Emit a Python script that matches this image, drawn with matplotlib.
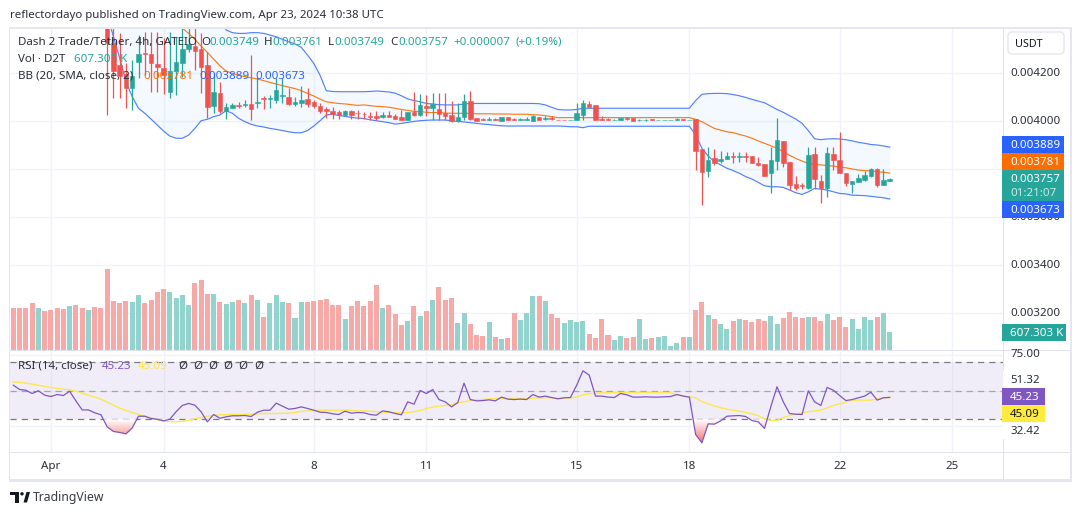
import numpy as np
import matplotlib
matplotlib.use("Agg")
import matplotlib.pyplot as plt
from matplotlib.patches import Rectangle, Polygon, FancyBboxPatch
from matplotlib.path import Path

plt.rcParams['font.family'] = ['Noto Sans', 'DejaVu Sans']

# ---- data (prices in 1e-6 USDT) ----
day_ticks = [6, 24, 48, 66, 90, 108, 132, 150]
day_labels = ['Apr', '4', '8', '11', '15', '18', '22', '25']
price_ticks = [4200, 4000, 3600, 3400, 3200]

candle_first = 15
opens = [4420,4321,4231,4194,4135,4244,4280,4276,4235,4219,4120,4206,4241,4296,4312,4296,4231,4060,4114,4039,4053,4063,4063,4069,4074,4095,4089,4085,4102,4096,4070,4074,4089,4077,4060,4048,4039,4035,4023,4039,4033,
 4027,4019,4019,4016,4023,4019,4015,4002,4035,4023,4060,4052,4048,4033,4023,3998,4015,4081,4010,4006,4003,4006,3998,4015,4006,4003,4003,3998,4015,4008,4010,4004,4004,4003,4002,4023,4069,4065,4006,4006,4001,4002,4010,4010,4001,4001,4006,4001,4001,4001,4003,4006,4001,
 4005,3881,3790,3844,3831,3840,3852,3848,3852,3852,3823,3819,3781,3831,3915,3827,3735,3731,3719,3860,3748,3719,3860,3835,3781,3735,3744,3752,3769,3798,3731,3749]
highs = [4500,4400,4363,4238,4252,4356,4370,4370,4370,4342,4370,4349,4384,4391,4400,4363,4287,4196,4162,4071,4071,4078,4085,4273,4183,4102,4106,4176,4176,4134,4096,4144,4134,4085,4071,4058,4058,4044,4044,4044,4044,
 4037,4037,4040,4034,4040,4027,4044,4037,4117,4110,4106,4113,4113,4113,4081,4071,4110,4123,4010,4012,4013,4012,4015,4015,4012,4012,4015,4023,4015,4019,4019,4004,4004,4004,4073,4085,4081,4065,4019,4010,4006,4010,4016,4010,4006,4006,4006,4002,4002,4002,4010,4006,4002,
 4005,3881,3890,3881,3873,3869,3869,3869,3869,3852,3848,3819,3891,4010,3915,3827,3769,3738,3891,3891,3773,3891,3891,3952,3781,3748,3777,3790,3802,3802,3798,3761]
lows = [4023,4092,4092,4051,4044,4176,4189,4120,4120,4109,4095,4106,4183,4287,4210,4113,4009,4030,4030,4006,4051,4051,4058,4002,4051,4048,4051,4071,4071,4064,4060,4058,4058,4051,4033,4009,4005,4005,4019,4005,4005,
 4005,4002,4002,4012,4013,4005,4002,4002,4020,4020,4020,4002,4002,4002,3995,3995,4002,4002,3998,4002,4002,4002,3998,4002,4002,4002,4002,3998,4002,4002,4002,4003,4003,4003,4002,4002,4056,4002,4002,4002,4001,4002,4002,3998,3998,3998,4003,4001,4001,4001,4002,4003,4001,
 3794,3648,3765,3815,3823,3840,3823,3827,3827,3823,3810,3769,3698,3794,3806,3710,3710,3714,3714,3714,3656,3681,3794,3781,3727,3698,3744,3748,3765,3723,3731,3749]
closes = [4321,4208,4185,4135,4185,4276,4276,4241,4224,4189,4208,4244,4296,4317,4291,4224,4058,4117,4041,4055,4064,4060,4067,4048,4077,4091,4092,4127,4106,4069,4077,4085,4069,4060,4039,4039,4026,4023,4039,4023,4030,
 4026,4016,4012,4023,4016,4008,4002,4035,4023,4065,4053,4070,4027,4020,3998,4015,4081,4008,3998,4002,4006,4002,4015,4002,4003,4006,4006,4019,4002,4010,4006,4003,4003,4004,4031,4073,4056,4002,4002,4002,4003,4010,4006,3998,4002,4002,4003,4002,4002,4002,4006,4003,4002,
 3873,3785,3835,3823,3840,3852,3848,3852,3848,3823,3815,3769,3835,3919,3823,3731,3719,3727,3856,3756,3719,3864,3835,3781,3739,3748,3760,3773,3798,3731,3752,3757]

bb_upper = [4900,4890,4880,4860,4840,4820,4800,4780,4760,4740,4720,4700,4680,4650,4620,4590,4550,4500,4440,
 4377,4366,4363,4363,4366,4366,4363,4356,4349,4338,4328,4319,4305,4273,4238,4189,4124,4121,4120,4120,4120,4120,
 4120,4121,4123,4121,4119,4114,4103,4090,4083,4078,4071,4069,4066,4065,4065,4065,4069,4071,4071,4071,4071,4071,4071,4071,4071,4071,4071,4071,4070,4065,4055,4046,4044,4044,4046,4051,4051,4051,4051,4051,4051,4051,4051,4051,4051,4051,4051,4051,4051,4051,4051,4051,4051,
 4083,4109,4112,4113,4113,4112,4108,4103,4096,4088,4081,4074,4060,4046,4034,4020,4006,3988,3958,3924,3920,3923,3924,3923,3920,3915,3909,3905,3900,3898,3894,3889]
bb_mid = [4620,4600,4580,4560,4540,4520,4500,4480,4460,4440,4420,4400,
 4385,4363,4338,4310,4284,4256,4228,4206,4196,4188,4183,4178,4173,4166,4159,4152,4145,4139,4133,4124,4113,4102,4089,4078,4074,4071,4069,4066,4063,
 4065,4062,4059,4058,4055,4051,4046,4042,4038,4037,4034,4033,4033,4031,4030,4030,4030,4030,4028,4028,4028,4027,4027,4027,4026,4026,4026,4024,4023,4020,4016,4012,4012,4012,4012,4012,4012,4012,4012,4012,4012,4012,4012,4012,4012,4012,4012,4012,4012,4012,4012,4012,4012,
 4005,3995,3981,3967,3960,3953,3949,3942,3935,3926,3915,3905,3895,3884,3870,3855,3842,3831,3821,3816,3815,3812,3810,3807,3803,3798,3794,3791,3790,3787,3784,3781]
bb_lower = [4440,4349,4259,4162,4099,4051,4030,4006,3981,3956,3935,3926,3926,3939,3967,3999,4005,4016,4023,4041,4030,4009,3995,3984,3977,3973,3967,3963,3958,3953,3949,3949,3958,3977,3999,4023,4026,4021,4017,4013,4010,
 4008,4003,3999,3995,3991,3985,3988,3992,3996,3999,4001,4002,4002,4002,3999,3996,3994,3991,3988,3985,3983,3980,3978,3977,3977,3977,3977,3977,3977,3977,3977,3977,3976,3974,3974,3970,3976,3976,3976,3976,3976,3976,3976,3976,3976,3976,3976,3976,3976,3976,3976,3976,3976,
 3940,3884,3852,3828,3815,3801,3791,3780,3766,3756,3742,3728,3724,3724,3721,3710,3699,3692,3703,3717,3714,3710,3703,3696,3694,3689,3688,3687,3684,3681,3678,3673]

volume_k = [1386,1386,1386,1551,1386,1287,1320,1386,1353,1452,1485,1386,1320,1419,1386,2673,1617,1551,1617,1584,1815,1551,1650,1914,2013,1914,1716,1815,1485,2211,2310,1848,1848,1584,1518,1584,1650,1551,1815,1650,1089,1551,1815,1584,1551,1056,1584,1584,1617,1650,1683,1485,1485,1023,1452,1617,
 1452,1617,2145,1386,1485,1188,825,957,1452,1122,1287,1650,2079,1650,1716,891,1221,858,495,462,924,429,363,396,1221,990,1221,1782,1782,1617,1188,1056,891,990,924,957,528,396,1023,495,330,462,396,429,1023,363,396,429,462,132,231,429,429,1320,1584,1155,1023,858,
 693,957,1023,990,924,1023,957,1122,858,1056,1254,1089,1056,1089,1089,957,1188,990,1089,759,1023,693,1089,990,1089,1221,607.3]
volume_dir = ("rrrrgrrrrgrrgrr"
              "rrrrggrrrrggggrrrgrggrgrgrgggrggrrrrrrgrr"
              "rrrgrrrgrgrgrrrggrrrgrgrrgggrgrrggggrrrrggrrggrggggrgrrgrg"
              "grgrrrrggrrrrgrrgrrrggggrgg")

rsi = [53.7,50.7,50.2,47.9,49.8,46.8,45.8,47.2,46.5,49.5,42.8,36.5,36.5,34.5,33.1,24.7,21.5,20.8,19.8,24.0,32.1,32.1,30.5,30.0,28.9,30.0,35.2,39.6,41.0,39.8,35.2,28.2,33.3,30.7,31.7,32.4,32.4,32.6,31.9,34.9,36.3,36.3,41.2,39.1,37.0,37.5,38.6,37.5,36.3,34.9,34.7,33.8,33.3,35.6,34.2,34.7,
 34.5,33.3,32.8,35.8,35.2,34.0,33.1,42.1,40.5,50.0,47.9,50.7,43.7,42.1,38.6,41.6,55.1,43.7,42.8,43.0,43.5,42.8,45.4,44.0,43.7,44.0,43.7,47.2,45.4,46.1,45.1,44.2,44.9,45.1,53.7,63.7,60.7,46.1,46.1,45.4,45.1,47.9,47.0,45.4,45.4,45.6,45.4,45.4,45.6,45.8,47.2,46.1,45.4,19.4,13.6,26.8,26.6,28.9,
 32.1,32.4,32.6,31.9,29.1,28.2,23.6,38.6,52.6,42.1,34.0,33.5,33.3,49.8,42.1,39.6,52.1,50.2,46.5,43.0,43.7,44.9,46.1,48.8,43.3,44.9,45.23]
rsi_ma = [55.8,55.8,55.1,54.4,53.7,52.8,52.1,51.4,50.9,50.5,49.5,48.1,46.8,45.4,44.0,41.9,39.8,37.7,36.1,34.7,33.5,32.1,31.0,29.8,28.7,28.4,28.2,28.7,29.1,30.3,31.2,32.1,32.8,33.1,33.1,33.3,33.3,33.5,33.5,33.8,34.0,34.0,34.0,34.2,34.2,34.7,35.4,35.8,36.1,36.3,36.3,36.3,36.3,36.3,36.1,35.8,
 35.8,35.6,35.2,34.9,34.7,34.5,34.5,34.7,35.2,36.1,37.5,38.4,39.1,39.6,40.0,41.4,42.1,43.0,43.5,43.7,44.2,44.4,44.4,44.4,44.4,44.4,44.4,44.7,44.9,45.1,44.9,44.7,44.7,44.9,45.4,47.0,47.7,48.1,48.4,48.4,48.6,48.6,48.6,48.6,48.6,48.6,48.6,48.6,48.6,48.4,47.2,46.3,45.6,44.9,42.3,40.7,39.3,37.9,
 37.0,36.3,35.6,34.7,33.8,32.4,30.5,29.1,29.4,31.2,32.6,33.5,34.5,35.2,35.8,36.3,37.9,39.6,40.7,42.1,43.0,43.3,43.3,43.3,44.2,45.1,45.09]

# ---- colours ----
GREEN, RED = '#26a69a', '#ef5350'
BLUE, ORANGE = '#2962ff', '#ff6d00'
PURPLE, YELLOW = '#7e57c2', '#fde74c'
GRID = '#f0f3fa'
FRAME = '#e6e6ee'
TEXT = '#131722'

W, H = 1080, 515
fig = plt.figure(figsize=(W / 100, H / 100), dpi=100, facecolor='white')

def axes_px(x0, y0, x1, y1, **kw):
    return fig.add_axes([x0 / W, 1 - y1 / H, (x1 - x0) / W, (y1 - y0) / H], **kw)

BAR0, BAR_DX = 13.3, 6.26
LEFT, RIGHT = 10, 1003
xlim = ((LEFT - BAR0) / BAR_DX, (RIGHT - BAR0) / BAR_DX)
TOP, SPLIT, BOTTOM = 28, 350, 452.7

ax = axes_px(LEFT, TOP, RIGHT, SPLIT)
ax.set_xticks(day_ticks); ax.set_yticks([4200, 4000, 3800, 3600, 3400, 3200])
ax.set_xlim(*xlim)
ax.set_ylim(4000 - (SPLIT - 120.5) * 200 / 48, 4000 + (120.5 - TOP) * 200 / 48)
ax.grid(True, color=GRID, lw=1, zorder=0)
ax.set_axisbelow(True)
ax.tick_params(length=0, labelleft=False, labelbottom=False)
for s in ax.spines.values():
    s.set_visible(False)

# volume in its own overlay axes
vax = axes_px(LEFT, TOP, RIGHT, SPLIT, sharex=ax)
vax.patch.set_alpha(0)
vax.set_ylim(0, (SPLIT - TOP) * 33)
vax.axis('off')
vn = np.arange(len(volume_k))
vcol = [('#92d3cd' if d == 'g' else '#f7a9a7') for d in volume_dir]
vax.bar(vn, volume_k, width=0.8, color=vcol, linewidth=0)

# Bollinger bands
bn = np.arange(candle_first, candle_first + len(bb_upper))
ax.fill_between(bn, bb_lower, bb_upper, color='#2196f3', alpha=0.05, lw=0, zorder=1)
ax.plot(bn, bb_upper, color=BLUE, lw=0.85, alpha=0.8, zorder=2)
ax.plot(bn, bb_lower, color=BLUE, lw=0.85, alpha=0.8, zorder=2)
ax.plot(bn, bb_mid, color=ORANGE, lw=0.85, alpha=0.9, zorder=2)

# candles
cn = np.arange(candle_first, candle_first + len(opens))
o, h, l, c = map(np.array, (opens, highs, lows, closes))
col = np.where(c >= o, GREEN, RED)
ax.vlines(cn, l, h, colors=col, lw=0.9, zorder=3)
ax.bar(cn, np.abs(c - o), bottom=np.minimum(o, c), width=0.72, color=col, edgecolor=col, linewidth=0.4, zorder=4)

# RSI pane
rax = axes_px(LEFT, SPLIT, RIGHT, BOTTOM, sharex=ax)
rax.set_yticks([75, 50, 25])
rax.grid(True, color=GRID, lw=1, zorder=0)
rax.set_axisbelow(True)
rax.tick_params(length=0, labelleft=False, labelbottom=False)
for s in rax.spines.values():
    s.set_visible(False)
rax.axhspan(30, 70, color=PURPLE, alpha=0.1, lw=0, zorder=1)
for lvl, a in ((70, 1), (30, 1), (50, 0.6)):
    rax.axhline(lvl, color='#787b86', lw=0.9, ls=(0, (5, 4)), alpha=a, zorder=2)
rn = np.arange(len(rsi))
r = np.array(rsi)
poly = rax.fill_between(rn, r, 30, where=r < 30, interpolate=True, color='none', lw=0)
grad = np.linspace(0, 1, 64).reshape(-1, 1)
cm = matplotlib.colors.LinearSegmentedColormap.from_list('g', ['#ffffff', '#f56c6c'])
im = rax.imshow(grad, extent=(xlim[0], xlim[1], 13, 30), aspect='auto', cmap=cm, zorder=3, origin='upper')
im.set_clip_path(Path.make_compound_path(*poly.get_paths()), rax.transData)
rax.set_xlim(*xlim)
rax.set_ylim(50 - (BOTTOM - 390.5) / 1.4375, 50 + (390.5 - SPLIT) / 1.4375)
rax.plot(rn, rsi_ma, color=YELLOW, lw=1.0, zorder=4)
rax.plot(rn, rsi, color=PURPLE, lw=0.9, zorder=5)

# overlay in pixel coordinates for labels and chrome
ov = fig.add_axes([0, 0, 1, 1], zorder=10)
ov.set_xlim(0, W); ov.set_ylim(H, 0); ov.axis('off'); ov.patch.set_alpha(0)

def rect(x0, y0, x1, y1, c, z=1, **kw):
    ov.add_patch(Rectangle((x0, y0), x1 - x0, y1 - y0, fc=c, ec='none', zorder=z, **kw))

def txt(x, y, s, c=TEXT, size=8.3, ha='left', z=6, **kw):
    ov.text(x, y + 1.2, s, color=c, fontsize=size, ha=ha, va='center', zorder=z, **kw)

# frame
rect(8.5, 26.5, 1072, 28.5, FRAME)
rect(8.5, 26.5, 10.2, 481.5, FRAME)
rect(8.5, 479, 1072, 481.5, FRAME)
rect(1069.5, 26.5, 1072, 481.5, FRAME)
rect(10, 349.6, 1070, 351.2, '#e0e3eb')
rect(10, 452, 1070, 453.4, '#e0e3eb')
rect(1002.5, 28, 1003.5, 480, '#e0e3eb')

# title and legends
txt(10, 14.5, 'reflectordayo published on TradingView.com, Apr 23, 2024 10:38 UTC', c='#2a2e39', size=8.27)
txt(18, 41, 'Dash 2 Trade/Tether, 4h, GATEIO', c='#2a2e39')
for x, s, cc in ((201, 'O', '#2a2e39'), (209, '0.003749', GREEN), (264, 'H', '#2a2e39'), (272, '0.003761', GREEN),
                 (328, 'L', '#2a2e39'), (334, '0.003749', GREEN), (390, 'C', '#2a2e39'), (398, '0.003757', GREEN),
                 (453, '+0.000007', GREEN), (515, '(+0.19%)', GREEN)):
    txt(x, 41, s, c=cc)
txt(18, 58, 'Vol · D2T', c='#2a2e39')
txt(74, 58, '607.303 K', c=GREEN)
txt(18, 75, 'BB (20, SMA, close, 2)', c='#2a2e39')
txt(143, 75, '0.003781', c=ORANGE)
txt(199, 75, '0.003889', c=BLUE)
txt(255, 75, '0.003673', c=BLUE)
txt(18, 365, 'RSI (14, close)', c='#2a2e39')
txt(102, 365, '45.23', c=PURPLE)
txt(138, 365, '45.09', c=YELLOW)
for x in (178, 193, 208, 223, 238, 254):
    txt(x, 365, 'Ø', c='#2a2e39')

# price axis labels
for p in price_ticks:
    y = 120.5 + (4000 - p) * 48 / 200
    txt(1010.5, y - 0.5, f'{p / 1e6:.6f}', c='#2a2e39', z=3)
ov.add_patch(FancyBboxPatch((1008, 32), 56, 22, boxstyle='round,pad=0,rounding_size=4', fc='white', ec='#e6e6ee', lw=1, zorder=3))
txt(1015, 43.5, 'USDT', c='#131722', size=7.8)

# value badges
for y0, y1, cc, s in ((136, 153, BLUE, '0.003889'), (153, 170, ORANGE, '0.003781'), (201, 218, BLUE, '0.003673')):
    rect(1002, y0, 1064, y1, cc, z=4)
    txt(1010, (y0 + y1) / 2 - 0.5, s, c='white', z=6, weight='medium')
rect(1002, 170, 1064, 201, GREEN, z=4)
txt(1010, 178, '0.003757', c='white', weight='medium')
txt(1010, 192, '01:21:07', c='#c9e9e6')
rect(1002, 324, 1066, 341, GREEN, z=4)
txt(1010, 332, '607.303 K', c='white', weight='medium')

# RSI axis labels
txt(1010.5, 353, '75.00', c='#2a2e39', z=3)
rect(1003, 371, 1041, 388, 'white', z=4)
txt(1010.5, 379, '51.32', c='#2a2e39')
rect(1002, 388, 1045, 405, PURPLE, z=4)
txt(1010, 396.2, '45.23', c='white', weight='medium')
rect(1002, 405, 1045, 422, '#ffeb3b', z=4)
txt(1010, 413, '45.09', c='#131722')
rect(1003, 422, 1041, 439, 'white', z=4)
txt(1010.5, 430, '32.42', c='#2a2e39')

# time axis labels
for t, s in zip(day_ticks, day_labels):
    txt(BAR0 + BAR_DX * t, 465.5, s, c='#2a2e39', ha='center')

# logo
ov.add_patch(Polygon([(10, 492), (19, 492), (19, 502.5), (14.5, 502.5), (14.5, 495), (10, 495)], fc='#131722', ec='none'))
ov.add_patch(Polygon([(23.5, 502.5), (26.5, 492), (30, 492), (27, 502.5)], fc='#131722', ec='none'))
ov.add_patch(plt.Circle((22, 493.8), 1.7, fc='#131722', ec='none'))
txt(33, 496.5, 'TradingView', c='#363a45', size=8.8)

fig.savefig('out.png', dpi=100)
